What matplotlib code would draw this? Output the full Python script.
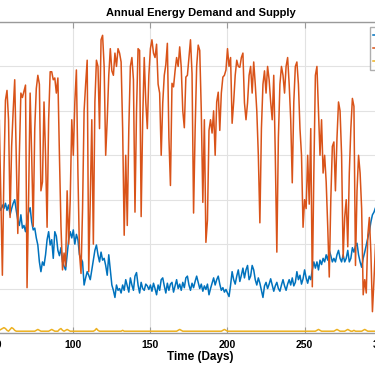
import matplotlib
matplotlib.use('Agg')
from matplotlib import pyplot as plt
import numpy as np

plt.rcParams['font.family'] = ['Liberation Sans', 'DejaVu Sans']

# days shown in the picture (the rest of the year lies outside the crop)
days = np.arange(50, 301)

demand = [
    140, 136, 142, 138, 144, 140, 146, 138, 144, 133,
    140, 146, 150, 138, 127, 121, 133, 118, 121, 114,
    127, 136, 141, 125, 116, 118, 107, 99, 80, 69,
    80, 76, 88, 105, 114, 99, 105, 84, 114, 109,
    93, 87, 96, 80, 75, 71, 88, 105, 114, 107,
    116, 100, 111, 105, 88, 84, 80, 54, 62, 69,
    65, 60, 71, 82, 93, 99, 88, 80, 91, 82,
    84, 76, 65, 88, 71, 54, 48, 40, 54, 48,
    50, 45, 54, 48, 60, 53, 46, 62, 54, 48,
    64, 68, 54, 45, 57, 50, 48, 55, 53, 49,
    54, 47, 56, 50, 43, 54, 48, 60, 62, 53,
    45, 56, 48, 55, 57, 46, 53, 60, 50, 55,
    48, 57, 51, 62, 64, 54, 48, 56, 51, 58,
    64, 57, 50, 55, 47, 53, 49, 55, 43, 50,
    56, 62, 54, 60, 64, 55, 48, 51, 46, 49,
    45, 41, 54, 69, 60, 55, 64, 71, 58, 65,
    73, 62, 71, 76, 60, 64, 76, 71, 60, 54,
    62, 56, 48, 40, 53, 57, 50, 55, 61, 54,
    47, 53, 57, 50, 47, 54, 60, 53, 48, 55,
    60, 54, 62, 53, 57, 69, 60, 65, 55, 61,
    71, 62, 56, 64, 60, 71, 80, 73, 80, 71,
    82, 77, 84, 80, 88, 82, 93, 87, 80, 84,
    80, 88, 93, 84, 80, 88, 80, 84, 93, 80,
    84, 96, 91, 98, 101, 88, 80, 74, 84, 91,
    99, 107, 114, 125, 133, 136, 141, 137, 133, 127,
    121,
]

supply = [
    200, 120, 240, 150, 65, 180, 262, 273, 240, 130,
    210, 250, 285, 200, 112, 200, 270, 265, 272, 279,
    51, 150, 270, 200, 120, 230, 275, 290, 280, 160,
    170, 260, 200, 119, 240, 294, 294, 285, 287, 270,
    287, 200, 120, 71, 90, 75, 160, 100, 150, 240,
    200, 260, 296, 180, 90, 67, 140, 250, 280, 307,
    69, 150, 240, 100, 260, 307, 300, 230, 330, 335,
    300, 200, 240, 290, 320, 295, 290, 315, 300, 320,
    315, 305, 230, 110, 200, 121, 230, 300, 310, 285,
    136, 250, 320, 318, 131, 240, 310, 260, 230, 290,
    320, 330, 315, 310, 325, 280, 270, 200, 259, 290,
    302, 326, 220, 166, 281, 277, 295, 310, 300, 322,
    299, 250, 231, 288, 290, 310, 330, 292, 135, 228,
    300, 324, 318, 250, 147, 240, 102, 127, 228, 240,
    225, 250, 200, 260, 271, 228, 270, 288, 290, 296,
    320, 300, 310, 236, 260, 290, 307, 300, 299, 310,
    315, 259, 240, 259, 290, 300, 270, 305, 280, 250,
    200, 124, 230, 280, 295, 270, 300, 285, 260, 240,
    290, 200, 91, 220, 280, 300, 290, 270, 300, 310,
    280, 240, 169, 260, 300, 305, 280, 230, 200, 119,
    150, 140, 200, 145, 230, 52, 180, 290, 300, 250,
    200, 240, 180, 200, 170, 120, 63, 150, 210, 215,
    160, 219, 260, 250, 200, 85, 130, 150, 97, 180,
    230, 264, 255, 76, 160, 200, 180, 140, 43, 60,
    45, 110, 130, 90, 24, 60, 100, 90, 80, 100,
    120,
]

storage = [
    2, 2, 3, 4, 5, 6, 5, 3, 2, 4,
    6, 5, 3, 2, 2, 2, 2, 2, 2, 2,
    2, 2, 2, 2, 2, 2, 3, 4, 3, 2,
    2, 2, 2, 2, 2, 3, 4, 3, 2, 2,
    2, 4, 5, 3, 2, 3, 4, 3, 2, 2,
    2, 2, 2, 2, 2, 2, 2, 2, 2, 2,
    2, 2, 2, 2, 3, 5, 3, 2, 2, 2,
    2, 2, 2, 2, 2, 2, 2, 2, 2, 2,
    2, 2, 3, 2, 2, 2, 2, 2, 2, 2,
    2, 2, 2, 2, 2, 2, 2, 2, 2, 2,
    2, 2, 2, 2, 2, 2, 2, 2, 2, 2,
    2, 2, 2, 2, 2, 2, 2, 2, 3, 4,
    3, 2, 2, 2, 2, 2, 2, 2, 2, 2,
    2, 2, 2, 2, 2, 2, 2, 2, 2, 2,
    2, 2, 2, 2, 2, 2, 2, 3, 4, 3,
    2, 2, 2, 2, 2, 2, 2, 2, 2, 2,
    2, 2, 2, 2, 2, 2, 2, 2, 2, 2,
    2, 2, 2, 2, 2, 2, 2, 2, 2, 2,
    2, 2, 2, 2, 2, 2, 2, 2, 2, 2,
    2, 2, 2, 2, 2, 2, 2, 2, 2, 2,
    2, 2, 2, 2, 2, 2, 2, 2, 3, 4,
    3, 2, 2, 2, 2, 2, 2, 2, 2, 2,
    3, 4, 3, 2, 2, 2, 2, 3, 4, 3,
    2, 2, 3, 2, 2, 2, 2, 2, 3, 4,
    3, 2, 2, 2, 2, 2, 2, 2, 2, 2,
    2,
]

labels = ['Demand', 'Supply', 'Storage']
colors = ['#0072BD', '#D95319', '#EDB120']

fig = plt.figure(figsize=(3.75, 3.66), dpi=100, facecolor='white')
# the axes run past the left and right edges of the picture
ax = fig.add_axes([-0.2157, 0.0902, 1.5008, 0.8497])

ax.plot(days, demand, color=colors[0], lw=1.1, label=labels[0])
ax.plot(days, supply, color=colors[1], lw=1.1, label=labels[1])
ax.plot(days, storage, color=colors[2], lw=1.1, label=labels[2])

ax.set_xlim(0, 365)
ax.set_ylim(0, 350)
ax.set_xticks(np.arange(0, 366, 50))
ax.set_yticks(np.arange(0, 351, 50))
ax.grid(True, color='#e2e2e2', lw=0.8)
ax.set_axisbelow(True)
for s in ax.spines.values():
    s.set_color('#9a9a9a')
    s.set_linewidth(1.0)
ax.tick_params(direction='in', length=4, width=0.8, color='#9a9a9a',
               top=True, right=True, labelsize=7.5, pad=5)
for t in ax.get_xticklabels():
    t.set_fontweight('bold')

ax.set_title('Annual Energy Demand and Supply', fontsize=8, fontweight='bold', pad=4)
ax.set_xlabel('Time (Days)', fontsize=8.5, fontweight='bold', labelpad=1)

leg = ax.legend(loc='upper left', bbox_to_anchor=(370 / 375, 339 / 366),
                bbox_transform=fig.transFigure, fontsize=7, frameon=True,
                fancybox=False, borderaxespad=0, borderpad=0.3,
                labelspacing=0.35, handlelength=2.5)
leg.get_frame().set_edgecolor('#9a9a9a')
leg.get_frame().set_linewidth(1.0)

fig.savefig('out.png', dpi=100)
